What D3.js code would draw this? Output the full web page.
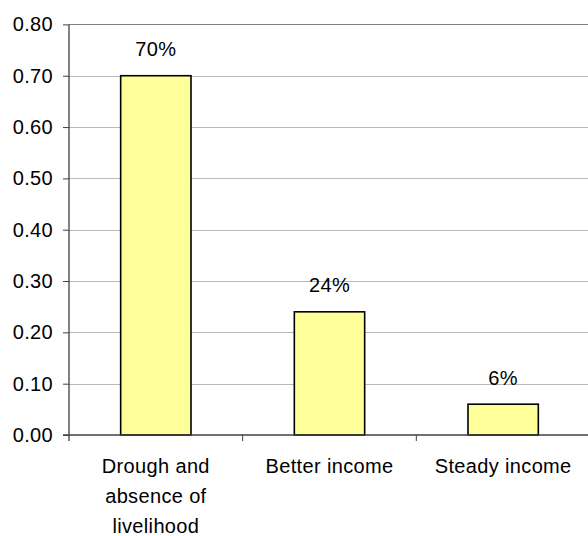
<!DOCTYPE html>
<html><head><meta charset="utf-8">
<script src="https://cdn.jsdelivr.net/npm/d3@7"></script>
<style>body{margin:0;background:#fff}svg{display:block}</style>
</head><body>
<script>
const categories = [["Drough and","absence of","livelihood"],["Better income"],["Steady income"]];
const values = [0.70, 0.24, 0.06];
const valueLabels = ["70%", "24%", "6%"];
const yTicks = [0, 0.1, 0.2, 0.3, 0.4, 0.5, 0.6, 0.7, 0.8];

const W = 588, H = 536;
const mLeft = 69, mRight = 590, mTop = 24.4, mBottom = 435;
const font = "'Liberation Sans', Arial, sans-serif";
const fs = 20, ls = 0.35;
const svg = d3.select("body").append("svg").attr("width", W).attr("height", H);

const x = d3.scaleBand().domain(d3.range(values.length)).range([mLeft, mRight]).paddingInner(0).paddingOuter(0);
const y = d3.scaleLinear().domain([0, 0.8]).range([mBottom, mTop]);

// gridlines
svg.append("g").selectAll("line").data(yTicks.filter(d => d > 0)).join("line")
  .attr("x1", mLeft).attr("x2", mRight)
  .attr("y1", d => Math.round(y(d)) + 0.5).attr("y2", d => Math.round(y(d)) + 0.5)
  .attr("stroke", d => d === 0.8 ? "#808080" : "#b8b8b8").attr("stroke-width", 1);

// bars
const bw = x.bandwidth() * 0.405;
svg.append("g").selectAll("rect").data(values).join("rect")
  .attr("x", (d, i) => x(i) + x.bandwidth() / 2 - bw / 2)
  .attr("y", d => y(d))
  .attr("width", bw)
  .attr("height", d => mBottom - y(d))
  .attr("fill", "#FFFF99").attr("stroke", "#000").attr("stroke-width", 1.6);

// y axis
const yAxis = d3.axisLeft(y).tickValues(yTicks).tickFormat(d3.format(".2f")).tickSize(6).tickPadding(10);
const gy = svg.append("g").attr("transform", `translate(${mLeft},0)`).call(yAxis);
gy.select(".domain").remove();
gy.selectAll(".tick line").attr("stroke", "#404040");
gy.selectAll(".tick text").attr("font-family", font).attr("font-size", fs).attr("letter-spacing", ls).attr("fill", "#000");
svg.append("line").attr("x1", mLeft).attr("x2", mLeft).attr("y1", mTop).attr("y2", mBottom + 6)
  .attr("stroke", "#404040").attr("stroke-width", 1.3);

// x axis
svg.append("line").attr("x1", mLeft - 6).attr("x2", mRight).attr("y1", mBottom).attr("y2", mBottom)
  .attr("stroke", "#404040").attr("stroke-width", 1.3);
svg.append("g").selectAll("line").data(d3.range(1, values.length)).join("line")
  .attr("x1", i => x(i)).attr("x2", i => x(i))
  .attr("y1", mBottom).attr("y2", mBottom + 6)
  .attr("stroke", "#404040").attr("stroke-width", 1);

// category labels
const cl = svg.append("g").selectAll("text").data(categories).join("text")
  .attr("font-family", font).attr("font-size", fs).attr("letter-spacing", ls).attr("text-anchor", "middle").attr("fill", "#000")
  .attr("transform", (d, i) => `translate(${x(i) + x.bandwidth() / 2},0)`);
cl.selectAll("tspan").data(d => d).join("tspan")
  .attr("x", 0).attr("y", (d, j) => 473 + j * 30).text(d => d);

// value labels
svg.append("g").selectAll("text").data(values).join("text")
  .attr("x", (d, i) => x(i) + x.bandwidth() / 2)
  .attr("y", d => y(d) - 19.5)
  .attr("font-family", font).attr("font-size", fs).attr("letter-spacing", ls).attr("text-anchor", "middle").attr("fill", "#000")
  .text((d, i) => valueLabels[i]);
</script>
</body></html>
